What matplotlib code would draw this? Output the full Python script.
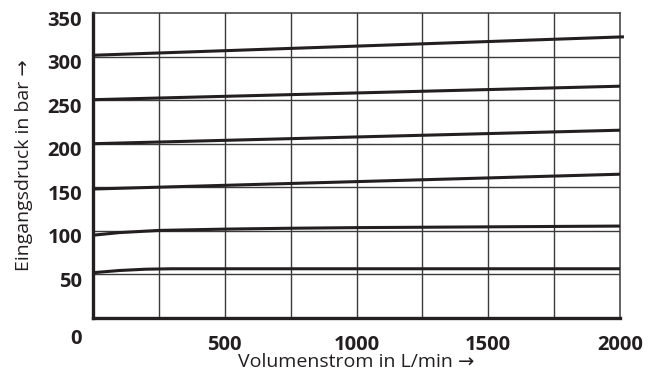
import matplotlib.pyplot as plt
import matplotlib.transforms as mtransforms

# flow rate in L/min
flow_50 = [0, 100, 200, 300, 500, 1000, 1500, 2000]
p_50 = [52, 54.5, 56, 56.5, 56.5, 56.5, 56.5, 56.5]

flow_100 = [0, 100, 250, 500, 750, 1000, 1500, 2000]
p_100 = [95, 98, 100.5, 102, 103, 103.7, 104.6, 105.5]

flow_lin = [0, 2000]
p_150 = [148, 165]
p_200 = [200, 215.5]
p_250 = [250.5, 266]
p_300 = [301.5, 322.5]

xticks = [500, 1000, 1500, 2000]
yticks = [50, 100, 150, 200, 250, 300, 350]

black = "#231f20"
grid_c = "#3c3a3b"

plt.rcParams['font.family'] = ['Open Sans', 'DejaVu Sans']

fig = plt.figure(figsize=(6.6, 3.78), dpi=100)
ax = fig.add_axes([93 / 660, 60 / 378, 527 / 660, 305 / 378])

ax.set_xlim(0, 2000)
ax.set_ylim(0, 350)

# grid
for gx in range(250, 2000, 250):
    ax.axvline(gx, color=grid_c, lw=1.0, zorder=1)
for gy in range(50, 350, 50):
    ax.axhline(gy, color=grid_c, lw=1.0, zorder=1)

lw = 2.2
ax.plot(flow_50, p_50, color=black, lw=lw, zorder=3, solid_capstyle='butt')
ax.plot(flow_100, p_100, color=black, lw=lw, zorder=3, solid_capstyle='butt')
for p in [p_150, p_200, p_250]:
    ax.plot(flow_lin, p, color=black, lw=lw, zorder=3, solid_capstyle='butt')
ax.plot([0, 2015], [p_300[0], p_300[0] + (p_300[1] - p_300[0]) * 2015 / 2000],
        color=black, lw=lw, zorder=3, solid_capstyle='butt', clip_on=False)

for side in ['left', 'bottom']:
    ax.spines[side].set_linewidth(2.4)
    ax.spines[side].set_color(black)
for side in ['top', 'right']:
    ax.spines[side].set_linewidth(1.1)
    ax.spines[side].set_color(grid_c)

ax.set_xticks(xticks)
ax.set_yticks(yticks)
ax.set_xticklabels([str(v) for v in xticks], fontsize=14.5, fontweight='bold', color=black)
ax.set_yticklabels([str(v) for v in yticks], fontsize=14.5, fontweight='bold', color=black)
ax.tick_params(length=0, pad=8)
ax.tick_params(axis='x', pad=12)

off = mtransforms.ScaledTranslation(0, -5 / 100, fig.dpi_scale_trans)
for lab in ax.get_yticklabels():
    lab.set_transform(lab.get_transform() + off)

ax.annotate("0", xy=(0, 0), xytext=(-17, -21), textcoords='offset pixels',
            ha='center', va='center', fontsize=14.5, fontweight='bold', color=black,
            annotation_clip=False)

ax.set_xlabel("Volumenstrom in L/min \u2192", fontsize=14, color=black, labelpad=-1)
ax.set_ylabel("Eingangsdruck in bar \u2192", fontsize=14, color=black, labelpad=10)

fig.savefig("out.png", dpi=100)
